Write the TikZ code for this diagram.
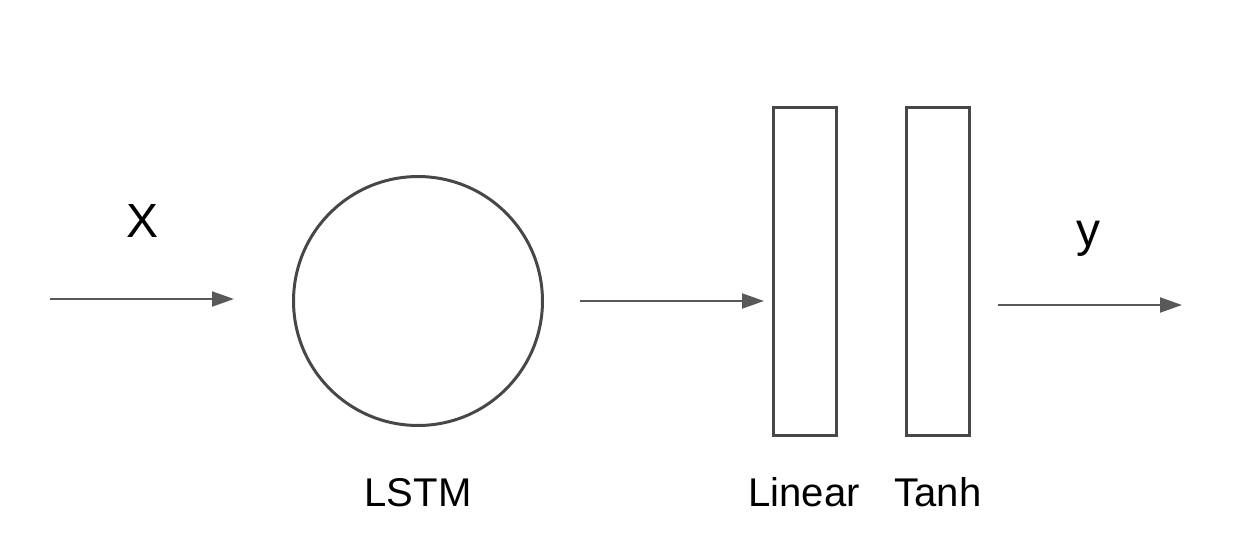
\documentclass[tikz,border=0pt]{standalone}
\usepackage{fontspec}
\setmainfont{Liberation Sans}
\usetikzlibrary{arrows.meta}
\begin{document}
\begin{tikzpicture}[x=0.02cm,y=-0.02cm,
  conn/.style={draw=black!65,line width=1.2pt,-{Triangle[length=12.5pt,width=8.5pt]}},
  shapeline/.style={draw=black!72,line width=1.7pt},
  layer/.style={shapeline,rectangle,minimum width=1.26cm,minimum height=6.58cm,inner sep=0pt},
  lbl/.style={font=\fontsize{22.8pt}{26pt}\selectfont,anchor=base,inner sep=0pt},
  biglbl/.style={font=\fontsize{27.3pt}{31pt}\selectfont,anchor=base,inner sep=0pt}]
\useasboundingbox (0,0) rectangle (1246,558);
\node[shapeline,circle,minimum size=4.98cm,inner sep=0pt] (lstm) at (418,301) {};
\node[layer] (lin) at (804.5,271.5) {};
\node[layer] (tanh) at (937.5,271.5) {};
\coordinate (a1s) at (50,299);
\coordinate (a1e) at (234,299);
\coordinate (a2s) at (580,301);
\coordinate (a2e) at (764,301);
\coordinate (a3s) at (998,305);
\coordinate (a3e) at (1182,305);
\draw[conn] (a1s) -- (a1e);
\draw[conn] (a2s) -- (a2e);
\draw[conn] (a3s) -- (a3e);
\node[biglbl] (xl) at (142,237) {X};
\node[biglbl] (yl) at (1088,246) {y};
\node[lbl] (lstml) at (418,506) {LSTM};
\node[lbl] (linl) at (804,506) {Linear};
\node[lbl] (tanhl) at (938,506) {Tanh};
\end{tikzpicture}
\end{document}
